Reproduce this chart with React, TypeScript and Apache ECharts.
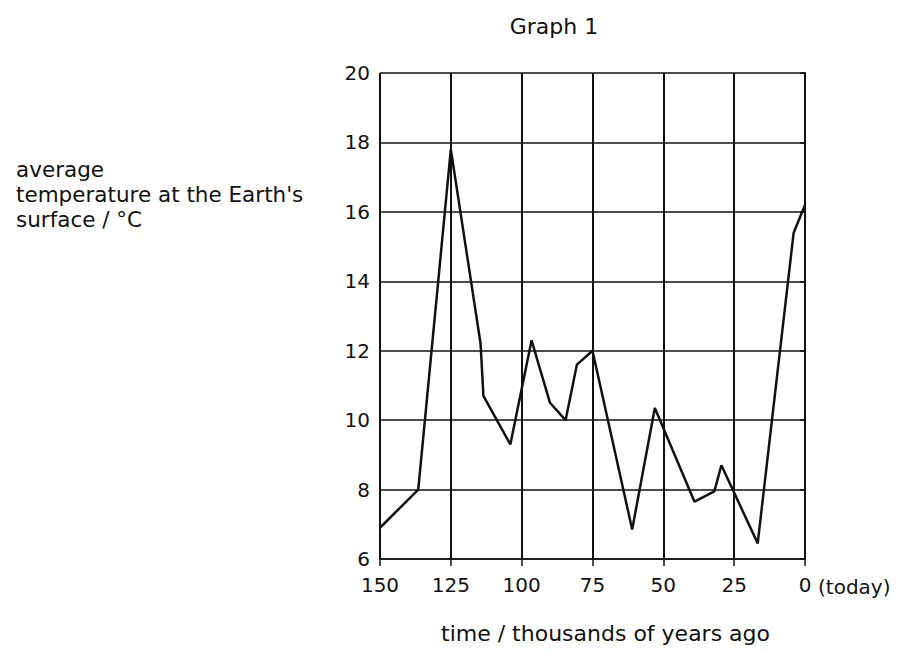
import React, { useEffect, useRef } from "react";
import * as echarts from "echarts";

const timeAgo = [150, 136.5, 125, 114.5, 113.5, 104, 96.5, 90, 84.5, 80.5, 75, 61, 53, 39, 32, 29.5, 16.7, 4, 0];
const temperature = [6.9, 8.0, 17.8, 12.2, 10.7, 9.3, 12.3, 10.5, 10.0, 11.6, 12.0, 6.85, 10.35, 7.65, 7.95, 8.7, 6.45, 15.4, 16.2];

const titleText = "Graph 1";
const yNameLines = ["average", "temperature at the Earth's", "surface / °C"];
const xNameText = "time / thousands of years ago";
const todayText = "(today)";

const FONT = "'DejaVu Sans', 'Liberation Sans', Arial, sans-serif";

export default function App() {
  const ref = useRef<HTMLDivElement>(null);
  useEffect(() => {
    if (!ref.current) return;
    const chart = echarts.init(ref.current, undefined, { renderer: "svg" });
    const data = timeAgo.map((t, i) => [t, temperature[i]]);
    chart.setOption({
      animation: false,
      backgroundColor: "#ffffff",
      textStyle: { fontFamily: FONT, color: "#111" },
      title: {
        text: titleText,
        left: 549,
        top: 10,
        textAlign: "center",
        textStyle: { fontFamily: FONT, fontSize: 22, fontWeight: "normal", color: "#111" },
      },
      grid: { left: 380, right: 94, top: 73, bottom: 93 },
      xAxis: {
        type: "value",
        min: 0,
        max: 150,
        interval: 25,
        inverse: true,
        axisLine: { show: true, lineStyle: { color: "#111", width: 1.5 } },
        axisTick: { show: true, length: 7, lineStyle: { color: "#111", width: 1.5 } },
        axisLabel: { fontFamily: FONT, fontSize: 20, color: "#111", margin: 16 },
        splitLine: { show: true, lineStyle: { color: "#111", width: 2 } },
      },
      yAxis: {
        type: "value",
        min: 6,
        max: 20,
        interval: 2,
        axisLine: { show: true, lineStyle: { color: "#111", width: 2 } },
        axisTick: { show: true, length: 5, lineStyle: { color: "#111", width: 1.5 } },
        axisLabel: { fontFamily: FONT, fontSize: 20, color: "#111", margin: 10 },
        splitLine: { show: true, lineStyle: { color: "#111", width: 1.5 } },
      },
      graphic: [
        {
          type: "text",
          left: 16,
          top: 157,
          style: {
            text: yNameLines.join("\n"),
            fontFamily: FONT,
            fontSize: 21.5,
            lineHeight: 25,
            fill: "#111",
          },
        },
        {
          type: "text",
          left: 818,
          top: 577,
          style: { text: todayText, fontFamily: FONT, fontSize: 20, fill: "#111" },
        },
        {
          type: "text",
          left: 441,
          top: 622,
          style: { text: xNameText, fontFamily: FONT, fontSize: 22, fill: "#111" },
        },
      ],
      series: [
        {
          type: "line",
          data,
          showSymbol: false,
          symbol: "none",
          lineStyle: { color: "#111", width: 2.5 },
        },
      ],
    });
    return () => chart.dispose();
  }, []);
  return <div ref={ref} style={{ position: "fixed", left: 0, top: 0, width: 899, height: 652 }} />;
}
